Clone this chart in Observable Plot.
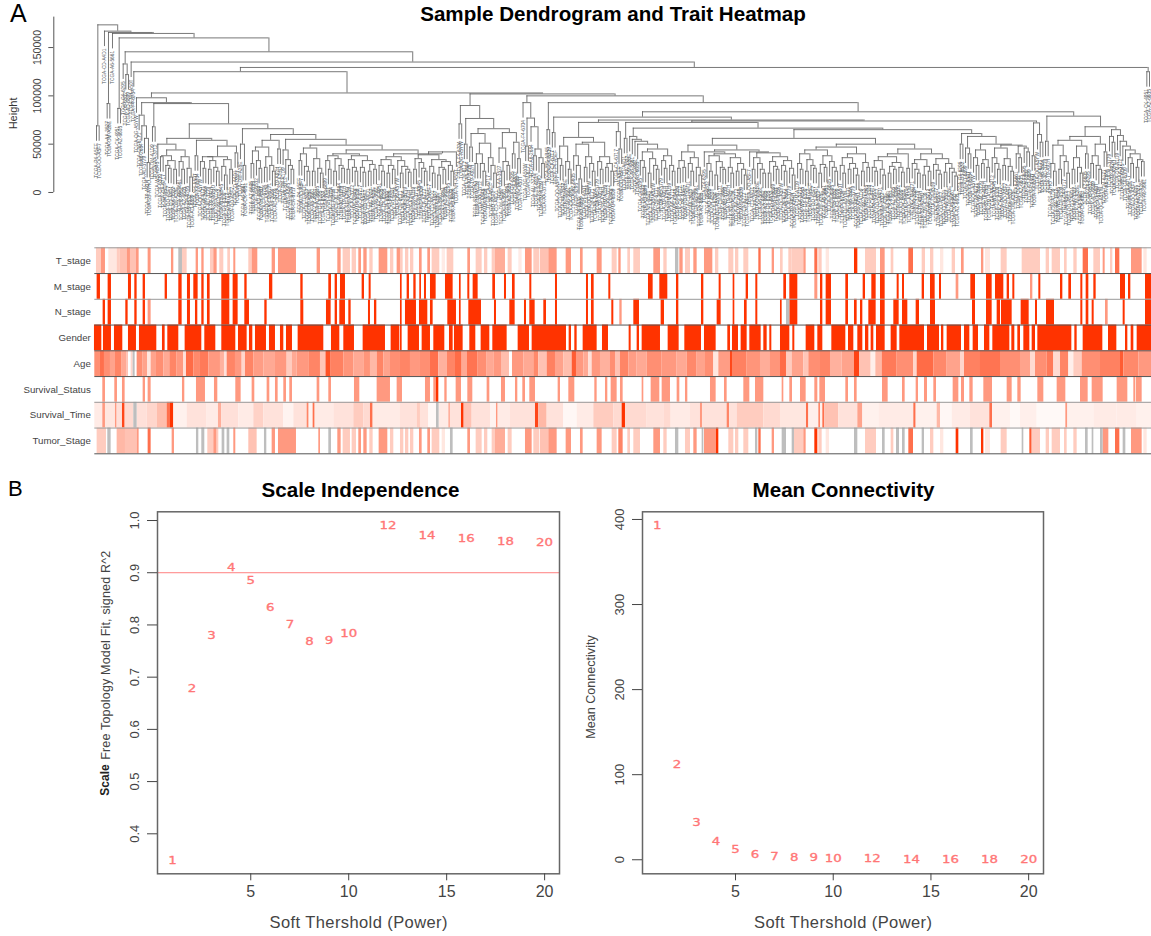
<!DOCTYPE html>
<html><head><meta charset="utf-8">
<script src="https://cdn.jsdelivr.net/npm/d3@7"></script>
<script src="https://cdn.jsdelivr.net/npm/@observablehq/plot@0.6"></script>
<style>
html,body{margin:0;padding:0;background:#fff;width:1151px;height:936px;overflow:hidden;font-family:"Liberation Sans",Arial,sans-serif}
#page{position:relative;width:1151px;height:936px}
#page svg{position:absolute}
.t{position:absolute;color:#000;white-space:nowrap;line-height:1}
.b{font-weight:700;transform:translateX(-50%)}
</style></head><body><div id="page">
<div class="t" style="left:10px;top:1px;font-size:25px">A</div>
<div class="t" style="left:8px;top:478px;font-size:22px">B</div>
<div class="t b" style="left:613px;top:4px;font-size:20.6px">Sample Dendrogram and Trait Heatmap</div>
<div class="t b" style="left:360.5px;top:479.5px;font-size:20.6px">Scale Independence</div>
<div class="t b" style="left:843.5px;top:479.5px;font-size:20.6px">Mean Connectivity</div>
</div>
<script>
const NA = null;
/* ---------- dendrogram: "." sample, "_" empty slot, (a b)h merge at height h (thousands) ---------- */
const cat140 = "(. (. (. (..)31)56)69)80";
const pair153 = "(..)68";
const C1 = "(. (((..)37 ((. (..)25)28 (..)24)33)38 ((. (..)24)32 (. (..)16)25)37)44)50";
const C2x = "(((. (..)25)32 ((..)24 (. (..)22)26)33)37 ((. (..)18)27 (..)24)34)37";
const C188 = `(${C1} ((..)38 (${C2x} (..)41)48)54)56`;
const c271 = "((((..)30 (. (..)25)33)43 ((..)26 (. (..)22)28)37)47 (..)45)54";
const c289 = "(. (. (. (..)24)28)34)44";
const c305 = "(((..)33 (. (..)22)27)40 ((..)22 (. (..)20)25)35)46";
const c352a = "((. (..)24)33 ((..)22 (. (..)25)28)35)38";
const c352b = "(((..)24 (. (..)22)26)34 ((. (..)21)26 ((..)22 (..)24)29)33)38";
const c412a = "(((. (..)22)28 ((..)20 (..)24)28)34 (. ((..)20 (. (..)21)24)27)33)37";
const c412b = "((((..)24 (. (. (..)22)25)31)35 ((. (..)20)27 (((..)18 (..)24)26 (. (..)22)28)32)34)39 .)42";
const D4b = "(((..)30 (. (..)22)30)40 (. (. (..)20)28)36)51";
const D5 = "((. ((..)22 (..)28)32)46 ((..)40 (..)35)52)62";
const E575 = "(((. (..)28)35 (. (..)24)32)48 (((. (. (..)14)28)38 ((..)26 (. (..)22)30)37)50 ((. (..)24)32 ((..)26 (..)22)30)37)52)57";
const B1 = "((. (..)26)33 ((..)20 (. (..)24)28)35)42";
const B2a = "((. (..)25)33 (. (..)22)28)38";
const L685 = "(((..)25 (..)26)33 ((. (..)22)30 (. (..)18)26)36)42";
const R1 = "(. (((. (..)22)30 ((..)18 (. (..)24)26)32)38 ((. (..)20)26 ((..)22 (. (..)18)24)30)36)40)42";
const R2 = "(. (((..)24 (. (. (..)20)24)30)36 (((..)20 (. (..)24)27)32 ((. (..)22)28 (. (..)18)25)33)37)41)42";
const s1 = "((. (..)24)30 ((..)22 (. (..)25)28)34)40";
const s2 = "(((..)20 (..)26)29 (. (. (..)22)26)32)38";
const s3 = "(((. (..)20)28 ((..)24 (. (..)18)25)30)36 ((..)22 (..)26)31)40";
const s4 = "((((. (..)22)26 (. (..)18)24)33 (((..)20 (..)24)27 (. (..)21)26)31)37 (..)25)40";
const s5 = "(((. (. (..)20)24)30 ((..)18 (..)22)27)34 ((. (. (..)19)23)29 ((..)21 (. (. (..)17)21)25)30)35)40";
const E3 = "(((. (..)28)36 ((..)30 (..)26)34)44 (((. (. (..)24)30)36 ((..)28 (. (..)22)27)35)46 ((. (..)36)40 (. (..)42)46)48)49)50";
const G1046 = "((. (..)22)30 ((..)24 (. (..)20)32)38)49";
const G1076 = "(((..)24 (. (..)20)26)36 (..)40)48";
const G1097 = "(((..)30 (. (..)24)28)38 (..)42)50";
const G1112 = "((. (..)52)58 (. (. (. (. ((. (..)30)36 ((..)26 (..)32)34)40)44)48)53)59)65";
const E1095 = `(((${G1046} ${G1076})54 ${G1097})58 ${G1112})68`;
const E1065 = `((..)53 ${E1095})79`;
const E967 = `((..)50 ((. (..)40)46 ${E3})58)61`;
const E766 = `((${L685} (${R1} ${R2})44)49 (((${s1} ${s2})44 ${s3})47 (${s4} ${s5})45)50)56`;
const E633 = `(. (. (. (. (${B1} ${B2a})45)50)53)55)58`;
const E750 = `(${E633} (${E766} ${E967})65)66.6`;
const E857 = `((..)56 ${E750})72.5`;
const E597 = `(${E575} (. (..)45)63)72.5`;
const E727 = `(${E597} (${E857} ((..)38 (. (..)52)60)72)74)75`;
const E642 = `((..)62 ${E727})78`;
const E703 = `((..)65 (${E642} ${E1065})83.5)93`;
const E531 = "(. ((..)48 (. ((..)38 (. (..)30)36)45)68)77)93";
const D473 = `((..)71 ((..)50 (((..)47 ${D4b})61 ${D5})66)76.6)90`;
const C265 = `((. (..)28)50 _ (${c271} (${c289} (_ (${c305} ((${c352a} ${c352b})40 (${c412a} ${c412b})40)44)49)50)55)60)66`;
const Root = `((..)69 _ (. ((..)92 (. _ ((..)87 ((. (..)122)133 (. ((. ((. (${cat140} (${pair153} (${C188} ${C265})71)92)93)98 (${D473} (${E531} ${E703})100)102)103)125 (..)125)129.4)135)145.6)160)164.6)165.6)167)173.5`;

const tcgaCodes = ["TCGA-P4-A5EF","TCGA-OO-A5F7","TCGA-CD-A4D1","TCGA-AA-3527","TCGA-DM-A28E","TCGA-A6-5661","TCGA-CK-4951","TCGA-AZ-6605","TCGA-G4-6295","TCGA-D5-6532","TCGA-AD-6899","TCGA-NH-A50T","TCGA-F4-6704","TCGA-QG-A5YW","TCGA-CM-6171","TCGA-A6-2684","TCGA-AU-3779","TCGA-T9-A92H","TCGA-SS-A7HO","TCGA-DM-A1D9","TCGA-AA-3712","TCGA-WS-AB45","TCGA-G4-6309","TCGA-CA-6717"];

/* ---------- trait heatmap strips: [start, end, level] along the sample axis, NA = missing, level omitted = 1 ---------- */
const traits = ["T_stage","M_stage","N_stage","Gender","Age","Survival_Status","Survival_Time","Tumor_Stage"];
const T_stage_a = [[288,303,.25],[303,315,.5],[325,350,.12],[350,358,.25],[358,380,.3],[380,390,.5],[390,408,.3],[408,416,.5],[443,452,.5],[513,520,.5],[535,546,NA],[546,560,.25],[587,594,.5],[604,611,.5],[630,640,.25],[640,650,.5],[658,670,.25],[682,690,.25],[700,706,.5],[745,755,.25],[755,772,.5],[815,825,.5],[834,888,.5],[950,960,.5],[1012,1022,.5],[1028,1050,.25],[1055,1068,.25],[1075,1083,.5],[1090,1100,.5],[1108,1118,.25],[1136,1162,.5],[1170,1180,.25],[1190,1200,.5]];
const T_stage_b = [[0,8,.25],[15,25,.25],[30,40,.25],[57,65,.5],[82,90,.5],[95,118,.25],[125,135,.1],[140,160,.25],[202,210,.5],[227,245,.25],[252,262,.25],[275,285,.25],[285,315,.4],[323,335,.25],[355,365,.1],[375,395,.5],[400,418,.25],[420,445,.3],[445,470,.5],[497,513,.5],[540,548,.5],[590,605,.5],[635,650,.25],[655,662,.5],[682,690,.25],[700,720,.25],[760,780,.5],[790,800,.25],[825,835,NA],[838,848,.5],[855,870,.25],[880,890,.5],[912,937,.5],[945,955,.25],[985,1000,.25],[1005,1015,.25],[1030,1045,.25],[1075,1082,.7],[1115,1122,.5]];
const T_stage_c = [[0,8,.25],[25,35,.25],[35,70,.25],[70,77,.5],[103,112,.7],[115,125,.25],[137,147,.12],[222,232,1],[255,288,.25],[300,314,.5],[332,340,.25],[385,399,.7],[425,435,.25],[450,460,.25],[480,490,.12],[515,525,.25],[543,551,.5],[603,610,.5],[615,630,.12],[662,680,.25],[725,780,.25],[797,807,.25],[815,840,.25],[852,860,.25],[880,890,.25],[908,924,.7],[940,960,.25],[968,974,.5],[990,997,.25],[1005,1018,.7],[1053,1085,.5],[1090,1100,.12]];
const M_stage_a = [[290,300],[323,333],[384,393],[403,410],[428,435],[494,501],[535,545],[561,570],[580,593],[604,611],[621,629],[664,688],[698,713],[733,740],[807,817],[901,908],[985,993],[1004,1011],[1020,1035],[1085,1092],[1106,1112]];
const M_stage_b = [[0,5],[20,27],[40,47],[58,63],[72,78],[90,107],[135,158],[177,182],[202,208],[218,233],[277,285],[312,318],[336,344],[388,394],[465,471],[558,564],[573,581],[625,631],[744,758],[778,802],[828,835],[903,910],[956,962],[998,1003],[1037,1044],[1066,1072]];
const M_stage_c = [[10,18],[28,52],[103,112,.5],[120,127],[137,153],[196,204],[248,255],[274,287],[300,314],[350,356],[366,372],[425,432],[450,464],[477,483],[527,535,.5],[571,585],[618,635],[645,670],[680,687],[697,703],[750,757,.5],[775,781],[840,847],[865,873],[901,907],[917,925],[940,947],[1020,1035],[1044,1051],[1095,1113]];
const N_stage_a = [[308,315],[323,333],[376,383],[403,410],[428,435],[443,452,.5],[535,545],[561,570],[585,592],[604,611],[621,629],[664,688],[698,713],[733,747],[793,800],[901,910],[978,992],[1004,1011],[1018,1035],[1045,1052],[1104,1110],[1122,1129]];
const N_stage_b = [[0,5],[15,48],[57,82],[90,98],[142,168],[177,182],[205,243],[282,288],[328,344],[372,378],[388,404],[430,438],[465,471],[558,564],[573,581],[634,640],[658,665,.5],[700,717],[782,792],[828,835],[903,910],[950,962],[998,1003],[1032,1040],[1066,1072]];
const N_stage_c = [[0,5],[18,28,NA],[28,52],[120,127],[137,153],[196,204],[222,230],[240,247],[265,287],[300,314],[340,356],[366,382],[407,417],[450,465],[576,585],[618,635],[650,660],[663,695],[722,746],[765,771],[798,822],[901,907],[917,925],[935,941],[975,983,.5],[1028,1034],[1095,1113]];
const Gender_a = [[282,304],[309,333],[342,367],[384,408],[417,469],[486,494],[502,535],[554,604],[613,646],[664,706],[714,740],[747,757],[765,798],[807,825],[840,850],[858,876],[893,970],[993,1018],[1030,1062],[1088,1155],[1172,1198]];
const Gender_b = [[0,5],[23,57],[65,90],[100,133],[147,158],[162,188],[208,226],[242,268],[277,320],[353,387],[395,498],[506,513],[523,530],[548,590],[606,624],[686,692],[710,717],[725,780],[803,836],[853,903],[912,947],[982,990],[996,1014],[1022,1040],[1048,1082],[1090,1100],[1108,1114]];
const Gender_c = [[0,28],[37,43],[77,103],[112,127],[154,196],[204,220],[232,247],[255,265],[272,280],[288,314],[332,350],[358,432],[441,477],[483,490],[500,543],[552,568],[578,594],[612,628],[637,688],[694,703],[712,720],[730,748],[755,765],[772,874],[883,890],[908,967],[984,1009],[1035,1042],[1052,1060],[1070,1113]];
const Age_a = [[283,300,.55],[300,312,.7],[312,330,.55],[330,345,.45],[345,365,.6],[365,380,.42],[380,384,.3],[392,398,.2],[398,404,NA],[410,428,.55],[428,442,.45],[442,452,.12],[452,468,.45],[468,490,.55],[490,508,.42],[508,530,.6],[530,550,.5],[550,558,.15],[558,580,.72],[580,600,.58],[600,625,.65],[625,660,.5],[660,672,.38],[672,680,.15],[680,705,.6],[705,725,.5],[725,735,.2],[735,760,.6],[760,790,.48],[790,825,.42],[825,860,.5],[860,875,.25],[875,890,.42],[890,925,.5],[925,960,.6],[960,975,.28],[975,978,.5],[978,992,.85],[992,1030,.62],[1030,1060,.52],[1060,1090,.42],[1090,1110,.52],[1110,1130,.35],[1130,1150,.6],[1150,1170,.45],[1170,1200,.55]];
const Age_b = [[0,30,.6],[30,60,.5],[60,90,.55],[90,115,.7],[115,140,.38],[140,165,.6],[165,185,.72],[185,200,.42],[200,233,.68],[233,260,.55],[260,280,.42],[280,305,.5],[305,327,.32],[336,370,.5],[370,400,.42],[400,415,.58],[415,440,.3],[440,465,.62],[465,490,.45],[490,515,.32],[515,528,.8],[528,550,.5],[550,565,.42],[565,575,.15],[575,600,.5],[600,630,.38],[630,645,.55],[645,660,.3],[660,685,.6],[685,710,.48],[710,740,.42],[740,785,.55],[785,830,.5],[830,860,.42],[860,890,.58],[890,915,.45],[915,940,.55],[940,955,.12],[955,990,.48],[990,996,.9],[996,1040,.62],[1040,1080,.52],[1080,1110,.4],[1110,1140,.52]];
const Age_c = [[0,18,.72],[18,35,.25],[35,70,.45],[70,85,.28],[85,120,.55],[120,150,.6],[150,185,.38],[185,222,.45],[222,238,.92],[238,272,.3],[272,286,.08],[286,305,.35],[305,350,.65],[350,400,.55],[400,410,.2],[410,460,.72],[460,500,.58],[500,540,.45],[540,552,.2],[552,600,.62],[600,660,.68],[660,720,.55],[720,750,.45],[750,765,.18],[765,800,.55],[800,820,.65],[820,840,.18],[840,865,.6],[865,880,.08],[880,905,.25],[905,960,.55],[960,1020,.62],[1020,1030,.8],[1030,1075,.58],[1075,1113,.5]];
const Survival_Status_a = [[307,315,.5],[343,351,.5],[366,374,.5],[428,435,.5],[443,452,.5],[546,553,.5],[588,615,.5],[642,652,.5],[706,722,.5],[755,763,.5],[800,808,.5],[825,833,.5],[850,858,.5],[868,876,.5],[950,958,.5],[985,993,.5],[1062,1078,.5],[1130,1170,.5],[1190,1200,.5]];
const Survival_Status_b = [[0,6,.5],[75,90,.5],[100,108,.5],[108,115,1],[133,140,.5],[167,183,.5],[202,217,.5],[260,268,.5],[303,315,.5],[345,352,.5],[367,375,.5],[388,405,.5],[473,480,.5],[505,523,.5],[583,590,.5],[615,622,.5],[632,650,.5],[660,668,.5],[725,730,.5],[752,778,.5],[785,810,.5],[830,838,.5],[855,862,.5],[930,947,.5],[972,980,.5],[1030,1048,.5],[1065,1090,.5]];
const Survival_Status_c = [[5,10,.5],[28,36,.5],[60,77,.5],[103,112,.5],[118,135,.5],[196,204,.5],[222,230,.5],[306,323,.5],[366,374,.5],[407,414,.5],[432,441,.5],[460,468,.5],[518,535,.5],[543,552,.5],[568,578,.5],[610,636,.5],[680,695,.5],[712,722,.5],[772,790,.5],[830,856,.5],[900,923,.5],[935,968,.5],[1010,1042,.5],[1060,1066,.5],[1068,1085,.5]];
const Survival_Time_a = [[283,307,.1],[307,315,.5],[315,345,.12],[345,350,.5],[350,366,.15],[366,374,.9],[374,400,.18],[400,410,NA],[410,440,.15],[440,470,.2],[470,500,.32],[500,510,.7],[510,520,1],[520,560,.07],[560,620,.14],[620,654,.1],[654,664,.4],[664,715,.15],[715,760,.1],[760,790,.22],[790,850,.14],[850,880,.06],[880,920,.14],[920,926,.6],[926,938,.06],[938,944,.7],[944,1000,.1],[1000,1060,.14],[1060,1090,.25],[1090,1110,.18],[1110,1118,.7],[1118,1200,.1]];
const Survival_Time_b = [[0,50,.14],[50,60,.25],[60,85,.14],[85,108,.03],[108,116,NA],[116,145,.1],[145,150,.4],[150,183,.14],[183,191,1],[191,215,.3],[215,270,.14],[270,288,.06],[288,293,.5],[293,330,.1],[330,405,.14],[405,415,.9],[415,440,.35],[440,490,.14],[490,530,.04],[530,580,.1],[580,640,.25],[640,665,.18],[665,675,1],[675,740,.18],[740,790,.14],[790,812,.18],[812,870,.1],[870,900,.14],[900,906,.5],[906,980,.14],[980,987,.6],[987,1010,.14],[1010,1090,.25],[1090,1140,.18]];
const Survival_Time_c = [[0,78,.12],[78,85,.7],[85,115,.08],[115,120,.6],[120,127,.07],[127,133,.7],[133,175,.3],[175,232,.14],[232,247,.45],[247,295,.07],[295,400,.1],[400,407,.7],[407,470,.07],[470,480,.35],[480,515,.04],[515,570,.1],[570,628,.14],[628,636,.7],[636,690,.07],[690,720,.03],[720,770,.08],[770,856,.03],[856,862,.5],[862,940,.07],[940,1010,.1],[1010,1070,.1],[1070,1113,.07]];
const Tumor_Stage_a = [[290,318,.25],[322,332,NA],[350,375,.35],[375,410,.3],[410,416,.5],[443,452,.7],[515,522,.5],[588,595,NA],[604,613,NA],[622,640,.25],[640,650,.5],[650,655,.25],[665,673,NA],[680,688,NA],[700,706,.5],[745,770,.3],[792,799,NA],[815,825,.5],[834,888,.5],[955,960,.5],[985,993,NA],[1012,1022,.5],[1028,1050,.25],[1055,1068,.25],[1075,1083,.5],[1090,1100,.5],[1108,1118,.25],[1136,1162,.5],[1170,1180,.25]];
const Tumor_Stage_b = [[0,10,.25],[15,25,.25],[30,40,.25],[57,65,.5],[82,90,.5],[95,118,.25],[125,135,.12],[150,158,NA],[202,210,.5],[227,245,.25],[252,262,.25],[275,285,.25],[285,315,.4],[323,335,.25],[375,395,.5],[400,418,.25],[420,445,.3],[445,470,.5],[497,513,.5],[540,548,.5],[590,605,.5],[635,650,.25],[655,668,.6],[682,690,.25],[700,720,.25],[760,780,.5],[790,800,.25],[825,835,NA],[855,870,.25],[880,890,.5],[905,910,NA],[912,948,.5],[948,955,1],[985,1000,.25],[1005,1015,.25],[1030,1045,.25],[1065,1072,NA],[1075,1082,.7],[1115,1122,.5]];
const Tumor_Stage_c = [[5,18,NA],[35,42,NA],[42,70,.25],[70,77,.5],[103,112,1],[115,125,.25],[137,147,.12],[222,232,NA],[255,288,.25],[306,314,NA],[332,340,.25],[348,357,NA],[366,374,NA],[385,399,.7],[425,432,NA],[450,460,.25],[480,490,.12],[527,535,1],[570,578,NA],[603,610,1],[615,630,.12],[662,680,.25],[725,730,NA],[748,755,.8],[755,780,.25],[797,807,.25],[815,840,.25],[852,860,.25],[880,890,.25],[915,923,NA],[935,940,NA],[960,968,NA],[968,985,.5],[1005,1018,.7],[1028,1036,NA],[1053,1085,.5],[1090,1100,.12]];

/* ---------- soft-threshold panels ---------- */
const powers = [1,2,3,4,5,6,7,8,9,10,12,14,16,18,20];
const signedR2 = [.349,.678,.780,.909,.885,.833,.801,.768,.770,.783,.990,.971,.964,.960,.957];
const meanK = [392.5,111,43.5,20.8,11.4,6.3,3.9,2.7,2,1.2,.6,.3,.1,.1,.05];
const xTicks = [5,10,15,20];
const r2Ticks = [.4,.5,.6,.7,.8,.9,1];
const kTicks = [0,100,200,300,400];
const heightTicks = [0,50000,100000,150000];

/* ---------- parse dendrogram ---------- */
function parseTree(s){
  let i=0, slot=0; const leaves=[], bars=[], stems=[];
  const ws=()=>{while(/\s/.test(s[i]))i++;};
  function node(){
    ws();
    if(s[i]==="."){i++;const n={x:slot++,leaf:true};leaves.push(n);return n;}
    i++; const kids=[];
    for(;;){ws();
      if(s[i]==="_"){i++;slot++;continue;}
      if(s[i]===")"){i++;break;}
      kids.push(node());}
    const m=/^[0-9.]+/.exec(s.slice(i)); i+=m[0].length;
    const h=+m[0]*1000, x1=kids[0].x, x2=kids[kids.length-1].x, x=(x1+x2)/2;
    bars.push({x1,x2,h});
    for(const k of kids){ if(k.leaf) k.tip=h-16000; stems.push({x:k.x,y1:h,y2:k.leaf?k.tip:k.h}); }
    return {x,h};
  }
  node();
  leaves.forEach((l,j)=>l.label=tcgaCodes[j%tcgaCodes.length]);
  return {leaves,bars,stems,slots:slot};
}
const tree=parseTree(Root);
const sans="'Liberation Sans',Arial,sans-serif";
const page=document.getElementById("page");
function place(svg,l,t){svg.style.left=l+"px";svg.style.top=t+"px";page.appendChild(svg);return svg;}

/* dendrogram: x scale maps slot index so that first leaf sits at 96 and last at 1149 */
const perSlot=(1149-96)/(tree.slots-1);
const dendro=Plot.plot({
  width:1151,height:240,marginLeft:53.3,marginRight:0,marginTop:0,marginBottom:0,
  style:{fontFamily:sans,background:"transparent"},
  x:{domain:[-(96-53.3)/perSlot,(1151-96)/perSlot],axis:null},
  y:{domain:[-49700,198700],axis:null},
  marks:[
    Plot.ruleX([-(96-53.3)/perSlot],{y1:0,y2:181500,stroke:"#555",strokeWidth:1}),
    Plot.axisY(heightTicks,{anchor:"left",tickSize:5,tickRotate:-90,tickPadding:8,fontSize:10.5,color:"#444",stroke:"#555",label:null,tickFormat:d=>String(d)}),
    Plot.text(["Height"],{frameAnchor:"left",y:[81800],rotate:-90,textAnchor:"middle",dx:-40,fontSize:11,fill:"#333"}),
    Plot.ruleY(tree.bars,{y:"h",x1:"x1",x2:"x2",stroke:"#555",strokeWidth:.8}),
    Plot.ruleX(tree.stems,{x:"x",y1:"y1",y2:"y2",stroke:"#555",strokeWidth:.8}),
    Plot.text(tree.leaves,{x:"x",y:"tip",text:"label",rotate:-90,textAnchor:"end",dy:2,fontSize:4.8,fill:"#555b60"})
  ]});
place(dendro,0,0);

/* trait heatmap */
const OFF=[0,1200,2340];
const table=[];
function addRow(row,segs){segs.forEach((seg,k)=>seg.forEach(d=>table.push({row,s:d[0]+OFF[k],e:d[1]+OFF[k],level:d.length>2?d[2]:1})));}
addRow(0,[T_stage_a,T_stage_b,T_stage_c]);
addRow(1,[M_stage_a,M_stage_b,M_stage_c]);
addRow(2,[N_stage_a,N_stage_b,N_stage_c]);
addRow(3,[Gender_a,Gender_b,Gender_c]);
addRow(4,[Age_a,Age_b,Age_c]);
addRow(5,[Survival_Status_a,Survival_Status_b,Survival_Status_c]);
addRow(6,[Survival_Time_a,Survival_Time_b,Survival_Time_c]);
addRow(7,[Tumor_Stage_a,Tumor_Stage_b,Tumor_Stage_c]);
const rows=traits.map((name,row)=>({name,row}));
const heat=Plot.plot({
  width:1151,height:220,marginLeft:94.3,marginRight:0,marginTop:7.3,marginBottom:6.7,
  style:{fontFamily:sans,background:"transparent"},
  x:{domain:[283,3453],axis:null},
  y:{domain:[8,0],axis:null},
  color:{type:"linear",domain:[0,1],range:["#ffffff","#ff3300"]},
  marks:[
    Plot.rect(table.filter(d=>d.level!==null),{x1:"s",x2:"e",y1:"row",y2:d=>d.row+1,fill:"level"}),
    Plot.rect(table.filter(d=>d.level===null),{x1:"s",x2:"e",y1:"row",y2:d=>d.row+1,fill:"#bebebe"}),
    Plot.ruleY([0,2,6,7],{stroke:"#999",strokeWidth:1}),
    Plot.ruleY([1,3,4,5,8],{stroke:"#555",strokeWidth:1}),
    Plot.text(rows,{text:"name",frameAnchor:"left",y:d=>d.row+.5,textAnchor:"end",dx:-4,fontSize:9.7,fill:"#444"})
  ]});
place(heat,0,240);

/* power panels */
function stretch(svg){
  d3.select(svg).selectAll("g.pw text").attr("lengthAdjust","spacingAndGlyphs")
    .attr("textLength",function(){return this.textContent.length>1?17:8.5;});
  d3.select(svg).selectAll("g.axt text").attr("lengthAdjust","spacing").attr("textLength",178);
  d3.select(svg).selectAll("g.axl text").attr("lengthAdjust","spacing").attr("textLength",209);
}
function powerPanel({left,fw,values,yDomain,yTicks,tickFmt,extras}){
  const data=powers.map((p,i)=>({p,v:values[i]}));
  const svg=Plot.plot({
    width:fw+100+12,height:466,marginLeft:100,marginRight:12,marginTop:41.3,marginBottom:62.7,
    style:{fontFamily:sans,background:"transparent",overflow:"visible"},
    x:{domain:[.24,20.76],axis:null},
    y:{domain:yDomain,axis:null},
    marks:[
      ...extras,
      Plot.frame({stroke:"#666",strokeWidth:1.5}),
      Plot.axisX(xTicks,{anchor:"bottom",tickSize:7,tickPadding:5,fontSize:16,color:"#444",label:null,tickFormat:String}),
      Plot.axisY(yTicks,{anchor:"left",tickSize:10,tickRotate:-90,tickPadding:9,fontSize:13,color:"#444",label:null,tickFormat:tickFmt}),
      Plot.text(["Soft Thershold (Power)"],{frameAnchor:"bottom",dy:54,fontSize:16.5,fill:"#444",className:"axt"}),
      Plot.text(data,{x:"p",y:"v",text:d=>String(d.p),fontFamily:"'DejaVu Sans'",fontSize:9.8,fill:"#ff7676",stroke:"#ff7676",strokeWidth:.3,className:"pw"})
    ]});
  place(svg,left-100,470);
  stretch(svg);
  return svg;
}
powerPanel({left:156.7,fw:402,values:signedR2,yDomain:[.3234,1.0167],yTicks:r2Ticks,tickFmt:d=>d.toFixed(1),extras:[
  Plot.ruleY([.9],{stroke:"#ff8080",strokeWidth:1}),
  Plot.text(["Scale"],{frameAnchor:"left",y:[.473],rotate:-90,textAnchor:"start",dx:-52,fontSize:12,fontWeight:700,fill:"#222"}),
  Plot.text(["Free Topology Model Fit, signed R^2"],{frameAnchor:"left",y:[.5417],rotate:-90,textAnchor:"start",dx:-52,fontSize:12.5,fill:"#444",className:"axl"})
]});
powerPanel({left:642.3,fw:401,values:meanK,yDomain:[-16.5,409],yTicks:kTicks,tickFmt:String,extras:[
  Plot.text(["Mean Connectivity"],{frameAnchor:"left",y:[203],rotate:-90,textAnchor:"middle",dx:-52,fontSize:12.6,fill:"#444"})
]});
</script></body></html>
